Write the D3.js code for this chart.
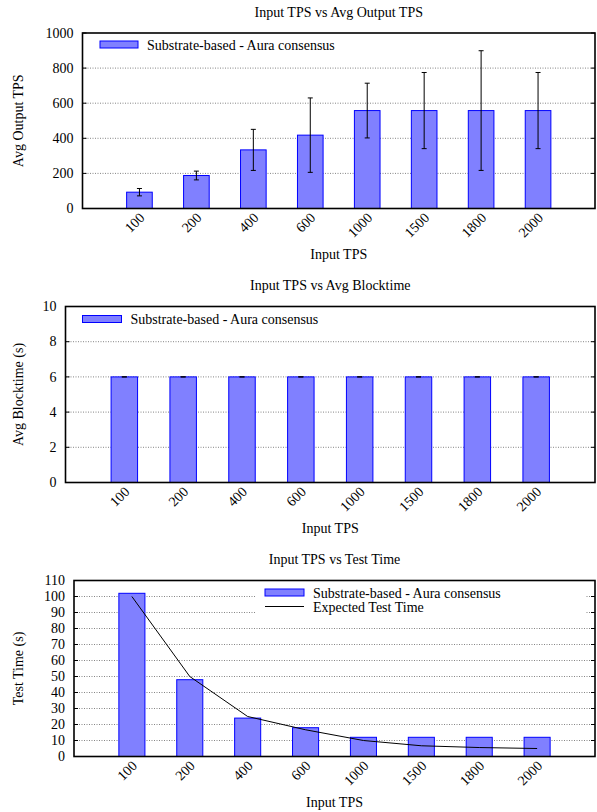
<!DOCTYPE html>
<html>
<head>
<meta charset="utf-8">
<script src="https://cdn.jsdelivr.net/npm/d3@7"></script>
<style>
  body { margin: 0; background: #fff; }
  svg text { font-family: "Liberation Serif", "Times New Roman", serif; font-size: 14px; fill: #000; }
</style>
</head>
<body>
<svg id="chart" width="597" height="812"></svg>
<script>
// data
var inputTps = ["100", "200", "400", "600", "1000", "1500", "1800", "2000"];

var outputTpsAvg = [93, 188, 334, 418, 558, 558, 558, 558];
var outputTpsErr = [21, 25, 117, 212, 156, 217, 341, 217];
var outputTicks = [0, 200, 400, 600, 800, 1000];

var blocktimeAvg = [6, 6, 6, 6, 6, 6, 6, 6];
var blocktimeErr = [0, 0, 0, 0, 0, 0, 0, 0];
var blocktimeTicks = [0, 2, 4, 6, 8, 10];

var testTime = [102, 48, 24, 18, 12, 12, 12, 12];
var expectedTestTime = [100, 50, 25, 16.7, 10, 6.7, 5.6, 5];
var testTimeTicks = [0, 10, 20, 30, 40, 50, 60, 70, 80, 90, 100, 110];

var seriesName = "Substrate-based - Aura consensus";
var lineName = "Expected Test Time";

var svg = d3.select("#chart");

/*
 * draws one gnuplot-like histogram panel
 * cfg.box : plot rectangle, cfg.legend : legend placement
 */
function drawChart(cfg) {
    var b = cfg.box;
    var g = svg.append("g");
    var n = cfg.cats.length;

    var x = d3.scaleLinear().domain([-1, n]).range([b.left, b.right]);
    var y = d3.scaleLinear().domain([0, cfg.ymax]).range([b.bottom, b.top]);
    var bw = (x(1) - x(0)) * 0.45;

    // grid
    g.append("g").selectAll("line")
        .data(cfg.ticks.filter(function(t) { return t > 0 && t < cfg.ymax; }))
        .enter().append("line")
        .attr("x1", b.left).attr("x2", b.right)
        .attr("y1", function(d) { return y(d); })
        .attr("y2", function(d) { return y(d); })
        .attr("stroke", "#666")
        .attr("stroke-width", 0.8)
        .attr("stroke-dasharray", "1,1.5");

    // small inward ticks on both sides
    var tk = g.append("g");
    cfg.ticks.forEach(function(t) {
        tk.append("line").attr("x1", b.left).attr("x2", b.left + 4)
            .attr("y1", y(t)).attr("y2", y(t)).attr("stroke", "#000");
        tk.append("line").attr("x1", b.right - 4).attr("x2", b.right)
            .attr("y1", y(t)).attr("y2", y(t)).attr("stroke", "#000");
    });

    // legend background (hides grid under the key)
    var lg = cfg.legend;
    if (lg.bg) {
        g.append("rect")
            .attr("x", lg.bg[0]).attr("y", lg.bg[1])
            .attr("width", lg.bg[2]).attr("height", lg.bg[3])
            .attr("fill", "#fff");
    }

    // bars
    g.append("g").selectAll("rect")
        .data(cfg.values)
        .enter().append("rect")
        .attr("x", function(d, i) { return x(i) - bw / 2; })
        .attr("y", function(d) { return y(d); })
        .attr("width", bw)
        .attr("height", function(d) { return b.bottom - y(d); })
        .attr("fill", "#8080ff")
        .attr("stroke", "#0000ff")
        .attr("stroke-width", 1);

    // error bars
    if (cfg.errs) {
        var eb = g.append("g").attr("stroke", "#000").attr("stroke-width", 1);
        cfg.values.forEach(function(v, i) {
            var cx = x(i), e = cfg.errs[i];
            eb.append("line").attr("x1", cx).attr("x2", cx)
                .attr("y1", y(v - e)).attr("y2", y(v + e));
            eb.append("line").attr("x1", cx - 2.5).attr("x2", cx + 2.5)
                .attr("y1", y(v - e)).attr("y2", y(v - e));
            eb.append("line").attr("x1", cx - 2.5).attr("x2", cx + 2.5)
                .attr("y1", y(v + e)).attr("y2", y(v + e));
        });
    }

    // expected line
    if (cfg.line) {
        var line = d3.line()
            .x(function(d, i) { return x(i); })
            .y(function(d) { return y(d); });
        g.append("path")
            .datum(cfg.line)
            .attr("d", line)
            .attr("fill", "none")
            .attr("stroke", "#000")
            .attr("stroke-width", 1);
    }

    // border
    g.append("rect")
        .attr("x", b.left).attr("y", b.top)
        .attr("width", b.right - b.left).attr("height", b.bottom - b.top)
        .attr("fill", "none")
        .attr("stroke", "#000")
        .attr("stroke-width", 1.6);

    // y tick labels
    g.append("g").selectAll("text")
        .data(cfg.ticks)
        .enter().append("text")
        .attr("x", b.left - 9)
        .attr("y", function(d) { return y(d); })
        .attr("dy", "0.33em")
        .attr("text-anchor", "end")
        .text(function(d) { return d; });

    // x tick labels, rotated
    g.append("g").selectAll("text")
        .data(cfg.cats)
        .enter().append("text")
        .attr("text-anchor", "end")
        .attr("transform", function(d, i) {
            return "translate(" + (x(i) + 6) + "," + (b.bottom + 10) + ") rotate(-45)";
        })
        .text(function(d) { return d; });

    // titles
    g.append("text")
        .attr("x", (b.left + b.right) / 2)
        .attr("y", b.top - 16.5)
        .attr("text-anchor", "middle")
        .text(cfg.title);
    g.append("text")
        .attr("x", (b.left + b.right) / 2)
        .attr("y", b.bottom + 50)
        .attr("text-anchor", "middle")
        .text("Input TPS");
    g.append("text")
        .attr("transform", "translate(23," + ((b.top + b.bottom) / 2) + ") rotate(-90)")
        .attr("text-anchor", "middle")
        .text(cfg.ylabel);

    // legend
    g.append("rect")
        .attr("x", lg.x).attr("y", lg.y)
        .attr("width", lg.w).attr("height", 7)
        .attr("fill", "#8080ff")
        .attr("stroke", "#0000ff")
        .attr("stroke-width", 1);
    g.append("text")
        .attr("x", lg.x + lg.w + 9)
        .attr("y", lg.y + 8.5)
        .text(seriesName);
    if (cfg.line) {
        g.append("line")
            .attr("x1", lg.x).attr("x2", lg.x + lg.w)
            .attr("y1", lg.y + 17.5).attr("y2", lg.y + 17.5)
            .attr("stroke", "#000");
        g.append("text")
            .attr("x", lg.x + lg.w + 9)
            .attr("y", lg.y + 22.5)
            .text(lineName);
    }
}

drawChart({
    title: "Input TPS vs Avg Output TPS",
    ylabel: "Avg Output TPS",
    cats: inputTps, values: outputTpsAvg, errs: outputTpsErr,
    ymax: 1000, ticks: outputTicks,
    box: { left: 82.5, right: 595, top: 33, bottom: 208.5 },
    legend: { x: 100, y: 41, w: 38 }
});

drawChart({
    title: "Input TPS vs Avg Blocktime",
    ylabel: "Avg Blocktime (s)",
    cats: inputTps, values: blocktimeAvg, errs: blocktimeErr,
    ymax: 10, ticks: blocktimeTicks,
    box: { left: 65.5, right: 595, top: 306.5, bottom: 482.5 },
    legend: { x: 82.5, y: 315.5, w: 39 }
});

drawChart({
    title: "Input TPS vs Test Time",
    ylabel: "Test Time (s)",
    cats: inputTps, values: testTime, line: expectedTestTime,
    ymax: 110, ticks: testTimeTicks,
    box: { left: 74, right: 595, top: 580.5, bottom: 756.5 },
    legend: { x: 265, y: 589, w: 39, bg: [256, 582, 330, 34] }
});
</script>
</body>
</html>
